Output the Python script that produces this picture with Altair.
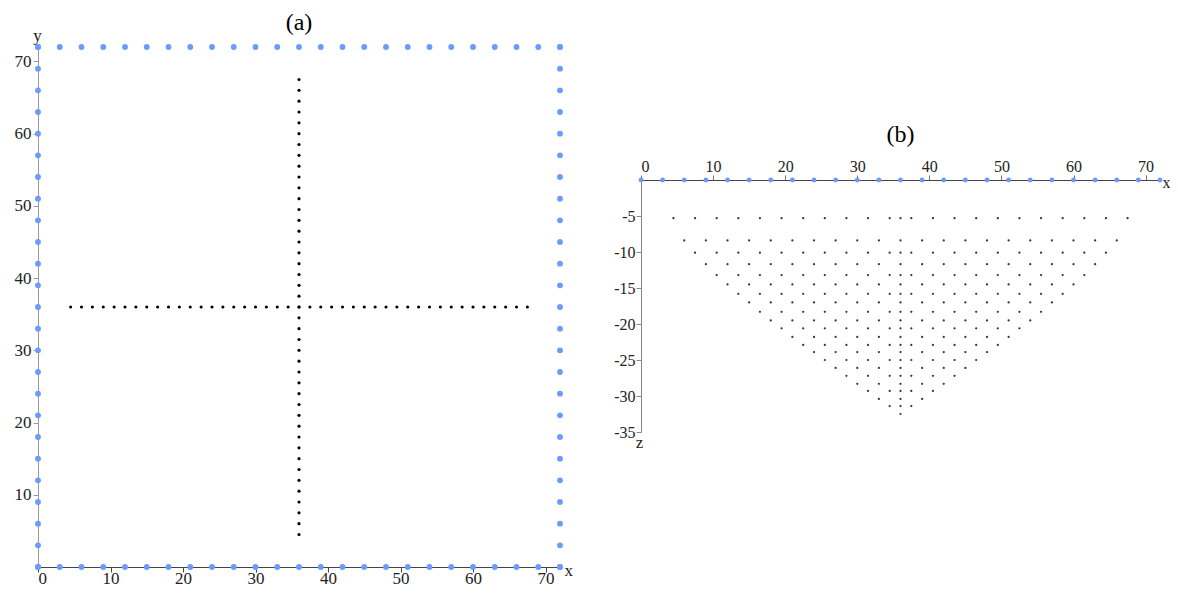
import altair as alt
import pandas as pd

# ---------------- data ----------------
# electrode positions (every 3 m along the boundary / profile)
ELECTRODES = [0, 3, 6, 9, 12, 15, 18, 21, 24, 27, 30, 33, 36,
              39, 42, 45, 48, 51, 54, 57, 60, 63, 66, 69, 72]

# measurement points along the two crossing lines in panel (a)
CROSS_POS = [4.5, 6.0, 7.5, 9.0, 10.5, 12.0, 13.5, 15.0, 16.5, 18.0, 19.5,
             21.0, 22.5, 24.0, 25.5, 27.0, 28.5, 30.0, 31.5, 33.0, 34.5,
             36.0, 37.5, 39.0, 40.5, 42.0, 43.5, 45.0, 46.5, 48.0, 49.5,
             51.0, 52.5, 54.0, 55.5, 57.0, 58.5, 60.0, 61.5, 63.0, 64.5,
             66.0, 67.5]
CROSS_LINE = 36.0

# pseudosection grid of panel (b)
X_ODD_GRID = [4.5, 7.5, 10.5, 13.5, 16.5, 19.5, 22.5, 25.5, 28.5, 31.5,
              34.5, 36.0, 37.5, 40.5, 43.5, 46.5, 49.5, 52.5, 55.5, 58.5,
              61.5, 64.5, 67.5]
X_EVEN_GRID = [6, 9, 12, 15, 18, 21, 24, 27, 30, 33, 36, 39, 42, 45, 48,
               51, 54, 57, 60, 63, 66]
ROW_Z = [-5.3, -8.4, -10.1, -11.7, -13.2, -14.5, -15.8, -17.0, -18.3,
         -19.5, -20.6, -21.8, -22.9, -23.9, -25.0, -26.1, -27.2, -28.3,
         -29.3, -30.4, -31.4, -32.5]
ROW_XMIN = [4.5, 6, 7.5, 9, 10.5, 12, 13.5, 15, 16.5, 18, 19.5, 21, 22.5,
            24, 25.5, 27, 28.5, 30, 31.5, 33, 34.5, 36]
ROW_XMAX = [67.5, 66, 64.5, 63, 61.5, 60, 58.5, 57, 55.5, 54, 52.5, 51,
            49.5, 48, 46.5, 45, 43.5, 42, 40.5, 39, 37.5, 36]

# ---------------- tables ----------------
border = []
for e in ELECTRODES:
    border.append({"x": e, "y": 0})
    border.append({"x": e, "y": 72})
    border.append({"x": 0, "y": e})
    border.append({"x": 72, "y": e})
border_df = pd.DataFrame(border)

cross = [{"x": CROSS_LINE, "y": p} for p in CROSS_POS] + \
        [{"x": p, "y": CROSS_LINE} for p in CROSS_POS]
cross_df = pd.DataFrame(cross)

surf_df = pd.DataFrame({"x": ELECTRODES, "z": [0] * len(ELECTRODES)})

pts = []
for i, z in enumerate(ROW_Z):
    grid = X_ODD_GRID if i % 2 == 0 else X_EVEN_GRID
    for x in grid:
        if ROW_XMIN[i] <= x <= ROW_XMAX[i]:
            pts.append({"x": x, "z": z})
pseudo_df = pd.DataFrame(pts)

FONT = "Liberation Serif"
BLUE = "#6b9bff"

# ---------------- panel (a) ----------------
xa = alt.X("x:Q", scale=alt.Scale(domain=[0, 72], nice=False),
           axis=alt.Axis(values=[0, 10, 20, 30, 40, 50, 60, 70], grid=False,
                         title="x", titleAngle=0, titleX=526, titleY=3,
                         titleAlign="left", titleBaseline="middle",
                         domainColor="#444", tickColor="#444",
                         labelFontSize=17, titleFontSize=17,
                         titleFontWeight="normal", labelPadding=-2,
                         tickSize=5))
ya = alt.Y("y:Q", scale=alt.Scale(domain=[0, 72], nice=False),
           axis=alt.Axis(values=[10, 20, 30, 40, 50, 60, 70], grid=False,
                         title="y", titleAngle=0, titleX=-1, titleY=-7,
                         titleAlign="center", titleBaseline="alphabetic",
                         domainColor="#999", tickColor="#999",
                         labelFontSize=17, titleFontSize=17,
                         titleFontWeight="normal", labelPadding=2,
                         tickSize=5))

a_border = alt.Chart(border_df).mark_circle(size=34, color=BLUE, opacity=1,
                                             clip=False).encode(x=xa, y=ya)
a_cross = alt.Chart(cross_df).mark_circle(size=10, color="#000", opacity=1
                                          ).encode(x="x:Q", y="y:Q")
panel_a = alt.layer(a_border, a_cross).properties(
    width=522, height=520,
    title=alt.TitleParams("(a)", fontSize=24, font=FONT,
                          fontWeight="normal", offset=-9))

# ---------------- panel (b) ----------------
xb = alt.X("x:Q", scale=alt.Scale(domain=[0, 72], nice=False),
           axis=alt.Axis(orient="top", values=[0, 10, 20, 30, 40, 50, 60, 70],
                         grid=False, title="x", titleAngle=0, titleX=521,
                         titleY=2, titleAlign="left", titleBaseline="middle",
                         domainColor="#444", tickColor="#777",
                         labelFontSize=16, titleFontSize=16,
                         titleFontWeight="normal", labelPadding=1,
                         tickSize=5))
yb = alt.Y("z:Q", scale=alt.Scale(domain=[-35, 0], nice=False),
           axis=alt.Axis(values=[-5, -10, -15, -20, -25, -30, -35],
                         grid=False, title="z", titleAngle=0, titleX=-2,
                         titleY=262, titleAlign="center",
                         titleBaseline="middle",
                         labelExpr="datum.value < 0 ? '-' + abs(datum.value) : datum.label",
                         domainColor="#888", tickColor="#888",
                         labelFontSize=16, titleFontSize=17,
                         titleFontWeight="normal", labelPadding=1,
                         tickSize=5))

b_surf = alt.Chart(surf_df).mark_circle(size=24, color=BLUE, opacity=1,
                                         clip=False).encode(x=xb, y=yb)
b_pts = alt.Chart(pseudo_df).mark_circle(size=5, color="#333", opacity=1
                                         ).encode(x="x:Q", y="z:Q")
panel_b = alt.layer(b_surf, b_pts).properties(
    width=519, height=252,
    title=alt.TitleParams("(b)", fontSize=24, font=FONT,
                          fontWeight="normal", offset=11))

spacer = alt.Chart(pd.DataFrame({"v": [0]})).mark_point(opacity=0).encode(
    x=alt.value(0), y=alt.value(0)).properties(width=10, height=76)

right = alt.vconcat(spacer, panel_b, spacing=0)

chart = alt.hconcat(panel_a, right, spacing=40).properties(
    padding={"left": 6, "top": 3, "right": 0, "bottom": 0}
).configure_view(stroke=None).configure_axis(
    labelFont=FONT, titleFont=FONT, labelColor="#222", titleColor="#222"
).configure_concat(spacing=0)

chart.save("out.html", embed_options={"renderer": "svg", "actions": False})
